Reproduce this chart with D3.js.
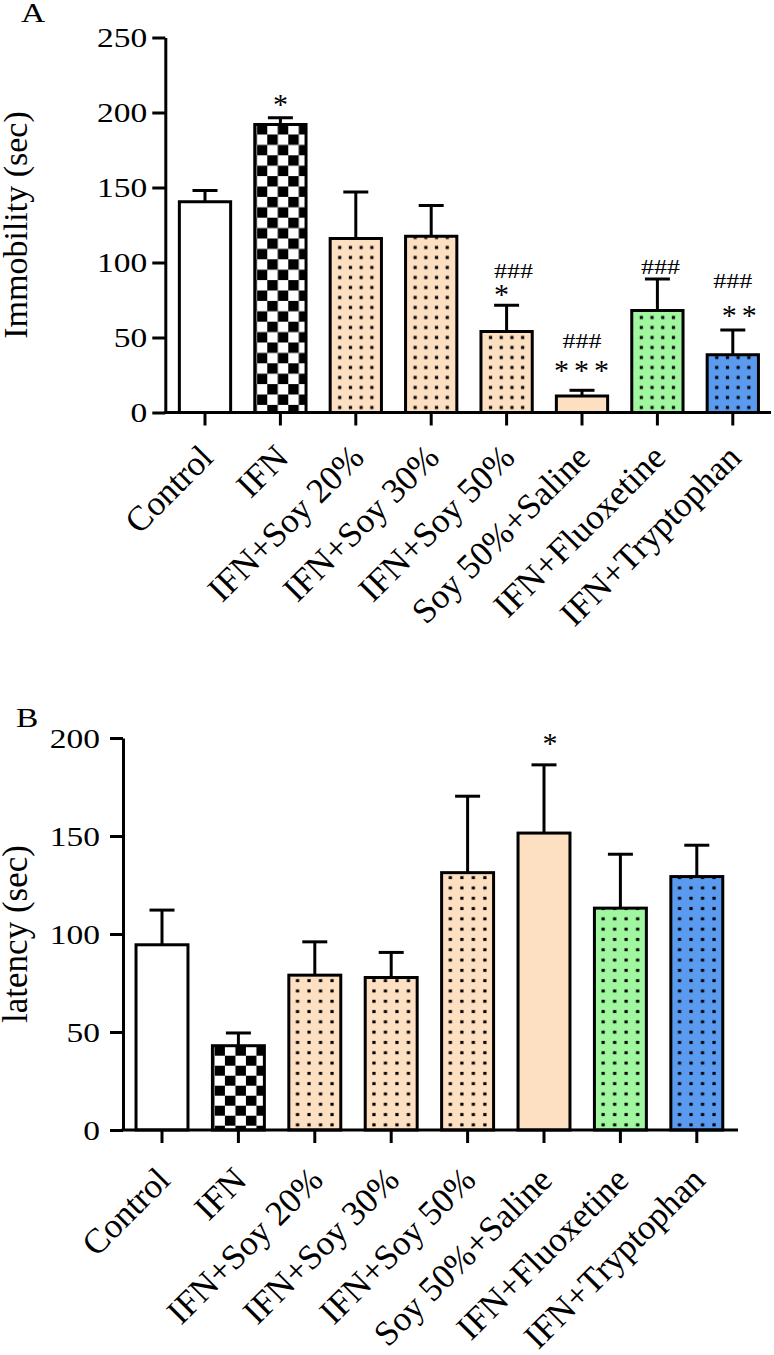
<!DOCTYPE html>
<html><head><meta charset="utf-8">
<script src="https://cdn.jsdelivr.net/npm/d3@7"></script>
<style>
body{margin:0;background:#fff}
svg{display:block}
text{font-family:"Liberation Serif","Times New Roman",serif;fill:#000}
</style>
</head><body>
<svg id="chart" width="774" height="1355"></svg>
<script>
// ---------- data ----------
const categories = ["Control","IFN","IFN+Soy 20%","IFN+Soy 30%","IFN+Soy 50%","Soy 50%+Saline","IFN+Fluoxetine","IFN+Tryptophan"];
const immobilityMean = [140.5, 192, 116, 117.5, 54, 11, 68, 38.5];
const immobilityErr  = [7.5, 4.5, 31, 20.5, 17.5, 3.8, 21, 16.5];
const latencyMean    = [94.5, 43, 79, 77.8, 131.3, 151.5, 113.2, 129.3];
const latencyErr     = [17.7, 6.5, 17, 12.8, 39, 34.8, 27.5, 16];
const yTicksA = [0, 50, 100, 150, 200, 250];
const yTicksB = [0, 50, 100, 150, 200];
const fillKinds = ["white","checker","peachDots","peachDots","peachDots","peach","greenDots","blueDots"];
// significance marks: category index, label, height in data units
const annotA = [
  {i:1, text:"*",   level:208},
  {i:4, text:"###", level:94.5},
  {i:4, text:"*",   level:81.5},
  {i:5, text:"###", level:47.5},
  {i:5, text:"***", level:31},
  {i:6, text:"###", level:97},
  {i:7, text:"###", level:87.7},
  {i:7, text:"**",  level:67.7}
];
const annotB = [{i:5, text:"*", level:199.5}];

// ---------- style ----------
const PEACH = "#fddfc1", GREEN = "#a0f7a0", BLUE = "#5a9bef";
const SX = 1.24; // horizontal stretch of the original figure's upright text
const svg = d3.select("#chart");
const defs = svg.append("defs");

function makePanel(cfg) {
  const g = svg.append("g");
  const x = d3.scaleBand().domain(categories).range(cfg.xRange).paddingInner(0.32).paddingOuter(0.16);
  const y = d3.scaleLinear().domain(cfg.yDomain).range(cfg.yRange);
  const bw = x.bandwidth();
  const axX = cfg.xRange[0] - cfg.axisGap;

  // patterns per bar
  categories.forEach((c, i) => {
    const kind = fillKinds[i];
    const left = x(c), cx = left + bw / 2;
    const id = cfg.name + "-p" + i;
    if (kind === "checker") {
      const sw = cfg.chk[0], sh = cfg.chk[1];
      const p = defs.append("pattern").attr("id", id).attr("patternUnits", "userSpaceOnUse")
        .attr("x", left + cfg.chkOff[0]).attr("y", y(cfg.values[i]) + cfg.chkOff[1])
        .attr("width", 2 * sw).attr("height", 2 * sh);
      p.append("rect").attr("width", 2 * sw).attr("height", 2 * sh).attr("fill", "#fff");
      p.append("rect").attr("x", 0).attr("y", 0).attr("width", sw).attr("height", sh).attr("fill", "#000");
      p.append("rect").attr("x", sw).attr("y", sh).attr("width", sw).attr("height", sh).attr("fill", "#000");
    } else if (kind.endsWith("Dots")) {
      const bg = kind === "peachDots" ? PEACH : kind === "greenDots" ? GREEN : BLUE;
      const pw = cfg.dot[0], ph = cfg.dot[1];
      const p = defs.append("pattern").attr("id", id).attr("patternUnits", "userSpaceOnUse")
        .attr("x", cx - 2 * pw).attr("y", y(0))
        .attr("width", pw).attr("height", ph);
      p.append("rect").attr("width", pw).attr("height", ph).attr("fill", bg);
      p.append("rect").attr("x", pw / 2 - 1.6).attr("y", ph / 2 - 1.5).attr("width", 3.2).attr("height", 3).attr("fill", "#000");
    }
  });
  const fillFor = (i) => {
    const k = fillKinds[i];
    if (k === "white") return "#fff";
    if (k === "peach") return PEACH;
    return "url(#" + cfg.name + "-p" + i + ")";
  };

  // bars
  g.selectAll("rect.bar").data(categories).join("rect").attr("class", "bar")
    .attr("x", d => x(d)).attr("width", bw)
    .attr("y", (d, i) => y(cfg.values[i]))
    .attr("height", (d, i) => y(0) - y(cfg.values[i]))
    .attr("fill", (d, i) => fillFor(i))
    .attr("stroke", "#000").attr("stroke-width", 3);

  // error bars (upper only)
  const eb = g.selectAll("g.err").data(categories).join("g").attr("class", "err");
  eb.append("line")
    .attr("x1", d => x(d) + bw / 2).attr("x2", d => x(d) + bw / 2)
    .attr("y1", (d, i) => y(cfg.values[i])).attr("y2", (d, i) => y(cfg.values[i] + cfg.errs[i]))
    .attr("stroke", "#000").attr("stroke-width", 3);
  eb.append("line")
    .attr("x1", d => x(d) + bw / 2 - 12.5).attr("x2", d => x(d) + bw / 2 + 12.5)
    .attr("y1", (d, i) => y(cfg.values[i] + cfg.errs[i])).attr("y2", (d, i) => y(cfg.values[i] + cfg.errs[i]))
    .attr("stroke", "#000").attr("stroke-width", 3);

  // y axis
  const ya = g.append("g").attr("transform", `translate(${axX},0)`)
    .call(d3.axisLeft(y).tickValues(cfg.yTicks).tickSize(13).tickSizeOuter(0));
  ya.select(".domain").attr("stroke-width", 3);
  ya.selectAll(".tick line").attr("stroke-width", 3);
  ya.selectAll(".tick text").attr("x", null).attr("dy", null)
    .attr("transform", `translate(${-13 - cfg.tickPad},9.3) scale(${SX},1)`)
    .attr("text-anchor", "end").style("font-size", "27px")
    .style("font-family", '"Liberation Serif","Times New Roman",serif');

  // x axis
  const base = y(0);
  g.append("line").attr("x1", axX - 1.5).attr("x2", cfg.xEnd)
    .attr("y1", base).attr("y2", base).attr("stroke", "#000").attr("stroke-width", 3);
  const xa = g.append("g").attr("transform", `translate(0,${base})`)
    .call(d3.axisBottom(x).tickSize(13).tickSizeOuter(0).tickFormat(""));
  xa.select(".domain").remove();
  xa.selectAll(".tick line").attr("stroke-width", 3);

  // category labels
  g.selectAll("text.cat").data(categories).join("text").attr("class", "cat")
    .attr("text-anchor", "end").style("font-size", "35px")
    .attr("transform", d => `translate(${x(d) + bw / 2 + 10},${base + cfg.labDy}) rotate(-45)`)
    .text(d => d);

  // y title
  g.append("text").attr("text-anchor", "middle").style("font-size", cfg.titleSize + "px")
    .attr("transform", `translate(27,${(cfg.yRange[0] + cfg.yRange[1]) / 2}) rotate(-90)`)
    .text(cfg.title);

  // panel letter
  g.append("text").style("font-size", "27px")
    .attr("transform", `translate(${cfg.letterPos[0]},${cfg.letterPos[1]}) scale(${SX},1)`)
    .text(cfg.letter);

  // significance marks
  cfg.annot.forEach(a => {
    const isHash = a.text.startsWith("#");
    const fs = isHash ? 21 : 30;
    const k = isHash ? 0.34 : 0.46;
    const cx = x(categories[a.i]) + bw / 2 + (cfg.nudge[a.i + a.text] || 0);
    g.append("text").attr("text-anchor", "middle")
      .style("font-size", fs + "px")
      .style("letter-spacing", a.text.length > 1 && !isHash ? "5px" : null)
      .attr("transform", `translate(${cx},${y(a.level) + k * fs}) scale(${isHash ? SX : 1},1)`)
      .text(a.text);
  });
}

makePanel({
  name: "A", values: immobilityMean, errs: immobilityErr, yTicks: yTicksA,
  yDomain: [0, 250], yRange: [412.5, 37.5], xRange: [167.3, 770.5], axisGap: 2, xEnd: 771,
  tickPad: 5, labDy: 47, title: "Immobility (sec)", titleSize: 34, letter: "A", letterPos: [21, 22],
  chk: [10.5, 10.4], chkOff: [-8.5, 10], dot: [10.7, 10], annot: annotA,
  nudge: {"4###": 7, "4*": -5, "6###": 3, "7**": 9, "5***": 2}
});
makePanel({
  name: "B", values: latencyMean, errs: latencyErr, yTicks: yTicksB,
  yDomain: [0, 200], yRange: [1130, 738], xRange: [123.8, 735], axisGap: 0.8, xEnd: 738,
  tickPad: 10, labDy: 52, title: "latency (sec)", titleSize: 35, letter: "B", letterPos: [16, 727],
  chk: [10.5, 10], chkOff: [-8.5, 10], dot: [11.5, 10.3], annot: annotB,
  nudge: {"5*": 6}
});
</script>
</body></html>
